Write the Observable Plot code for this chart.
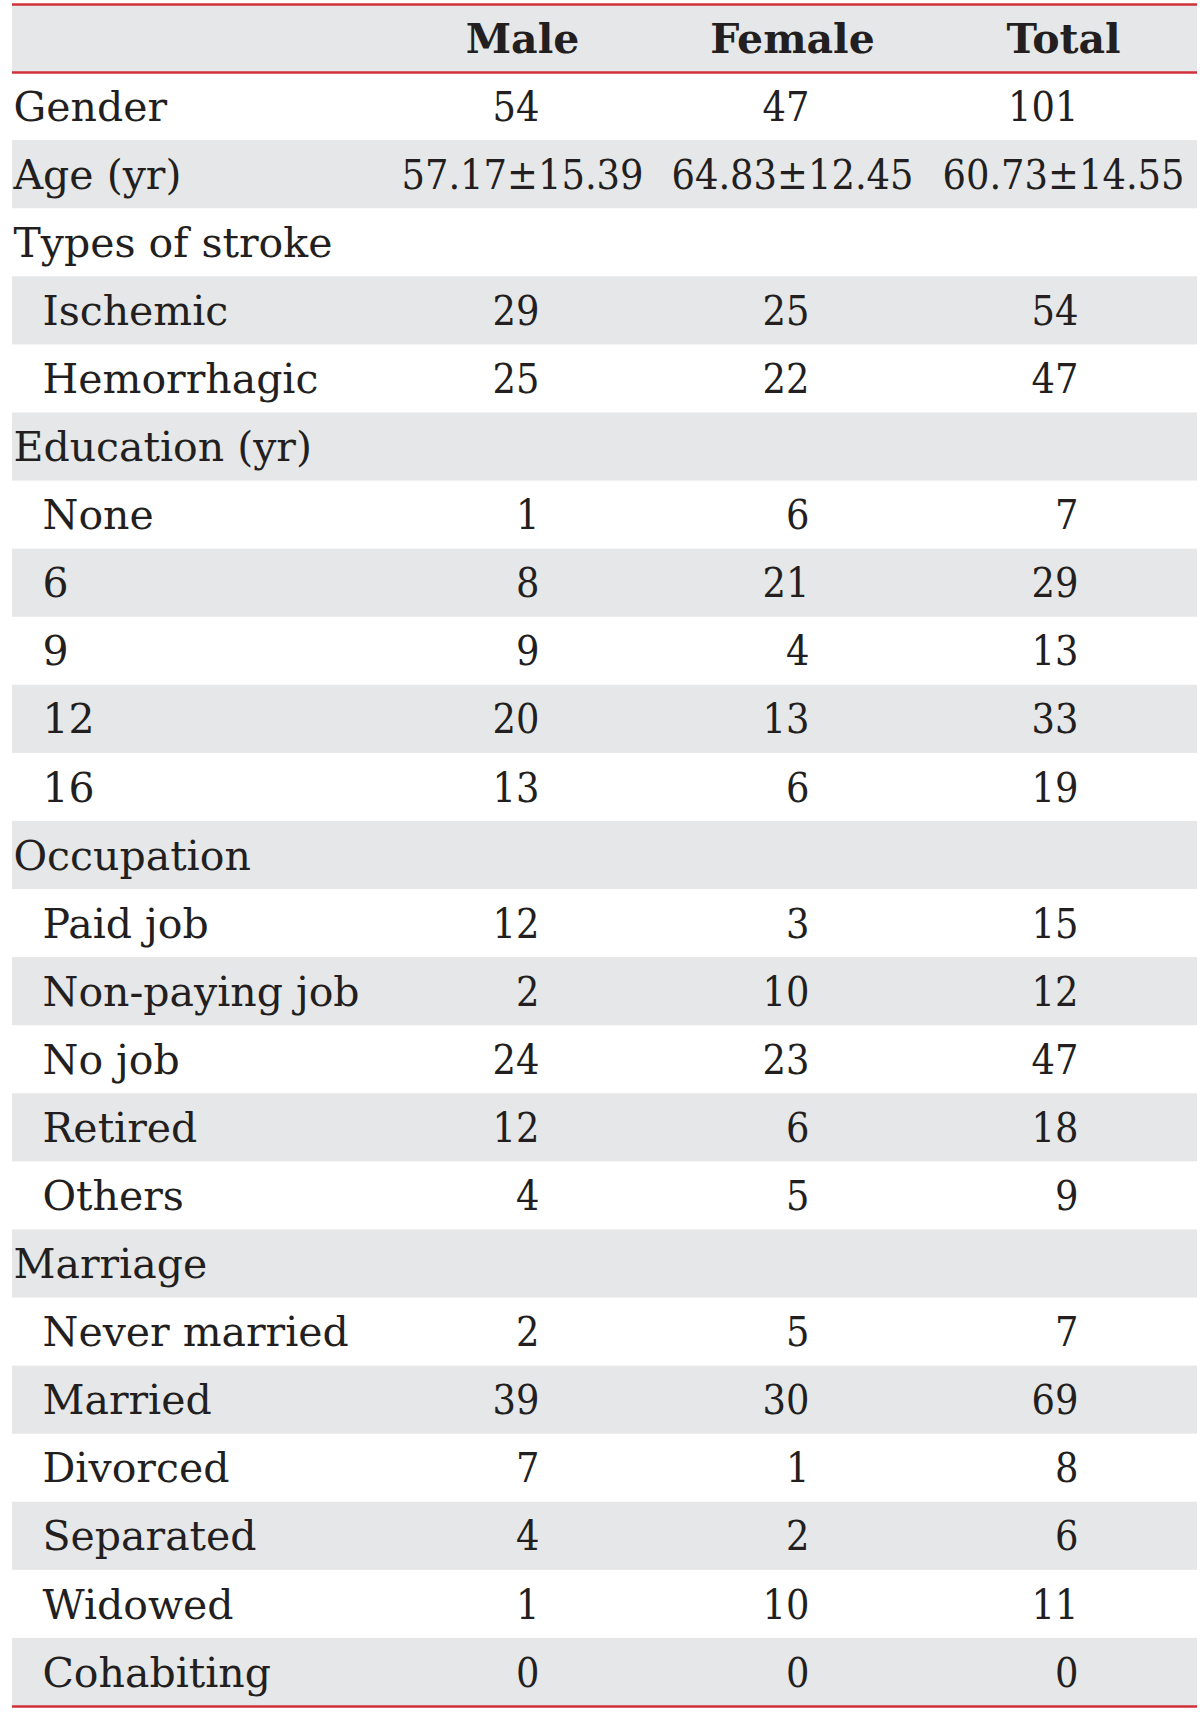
<!DOCTYPE html>
<html>
<head>
<meta charset="utf-8">
<script src="https://cdn.jsdelivr.net/npm/d3@7"></script>
<script src="https://cdn.jsdelivr.net/npm/@observablehq/plot@0.6"></script>
<style>
  html, body { margin: 0; padding: 0; background: #ffffff; }
  #chart svg { display: block; }
</style>
</head>
<body>
<div id="chart"></div>
<script>
// ---- Data ----
const columns = ["Male", "Female", "Total"];
const labels = ["Gender", "Age (yr)", "Types of stroke", "Ischemic", "Hemorrhagic",
  "Education (yr)", "None", "6", "9", "12", "16",
  "Occupation", "Paid job", "Non-paying job", "No job", "Retired", "Others",
  "Marriage", "Never married", "Married", "Divorced", "Separated", "Widowed", "Cohabiting"];
const levels = [0, 0, 0, 1, 1, 0, 1, 1, 1, 1, 1, 0, 1, 1, 1, 1, 1, 0, 1, 1, 1, 1, 1, 1];
const male   = ["54", "57.17±15.39", null, "29", "25", null, "1", "8", "9", "20", "13", null, "12", "2", "24", "12", "4", null, "2", "39", "7", "4", "1", "0"];
const female = ["47", "64.83±12.45", null, "25", "22", null, "6", "21", "4", "13", "6", null, "3", "10", "23", "6", "5", null, "5", "30", "1", "2", "10", "0"];
const total  = ["101", "60.73±14.55", null, "54", "47", null, "7", "29", "13", "33", "19", null, "15", "12", "47", "18", "9", null, "7", "69", "8", "6", "11", "0"];

// ---- Layout ----
const W = 1200, H = 1712;
const TABLE_LEFT = 12, TABLE_RIGHT = 1197;
const LABEL_X = [13, 42];
const COL_CENTER = [522, 792, 1063];
const COL_RIGHT = [539, 809, 1078];
const GRAY = "#e6e7e8";
const RED = "#d0303a";
const INK = "#231f20";
const SERIF = "'DejaVu Serif', serif";
const NUMFONT = "'DejaVu Serif Condensed', 'DejaVu Serif', serif";
const FS = 41;

const rows = labels.map((label, i) => ({label, level: levels[i], pos: i + 1}));
const nRows = rows.length + 1;
const grayPos = [0, ...rows.filter((d, i) => i % 2 === 1).map(d => d.pos)];

const series = [male, female, total];
const cells = [];
series.forEach((vals, c) => vals.forEach((v, i) => {
  if (v != null) cells.push({col: c, pos: i + 1, text: v, range: v.includes("±")});
}));
const headers = columns.map((name, c) => ({name, col: c}));

const chart = Plot.plot({
  width: W,
  height: H,
  margin: 0,
  x: {type: "linear", domain: [0, W], range: [0, W], axis: null},
  y: {type: "linear", domain: [0, nRows], range: [4, 1706], axis: null},
  style: {background: "#ffffff"},
  marks: [
    Plot.rect(grayPos, {x1: TABLE_LEFT, x2: TABLE_RIGHT, y1: d => d, y2: d => d + 1, fill: GRAY}),
    Plot.ruleY([0, 1, nRows], {x1: TABLE_LEFT, x2: TABLE_RIGHT, stroke: RED, strokeWidth: 2.5}),
    Plot.text(headers, {
      x: d => COL_CENTER[d.col], y: () => 0.5, text: "name",
      textAnchor: "middle", fontSize: FS, fontWeight: "bold", fontFamily: SERIF, fill: INK, dy: 1
    }),
    Plot.text(rows, {
      x: d => LABEL_X[d.level], y: d => d.pos + 0.5, text: "label",
      textAnchor: "start", fontSize: FS, fontFamily: SERIF, fill: INK, dy: 1
    }),
    Plot.text(cells.filter(d => !d.range), {
      x: d => COL_RIGHT[d.col], y: d => d.pos + 0.5, text: "text",
      textAnchor: "end", fontSize: FS, fontFamily: NUMFONT, fill: INK, dy: 1
    }),
    Plot.text(cells.filter(d => d.range), {
      x: d => COL_CENTER[d.col], y: d => d.pos + 0.5, text: "text",
      textAnchor: "middle", fontSize: FS, fontFamily: NUMFONT, fill: INK, dy: 1
    })
  ]
});
document.getElementById("chart").appendChild(chart);
</script>
</body>
</html>
